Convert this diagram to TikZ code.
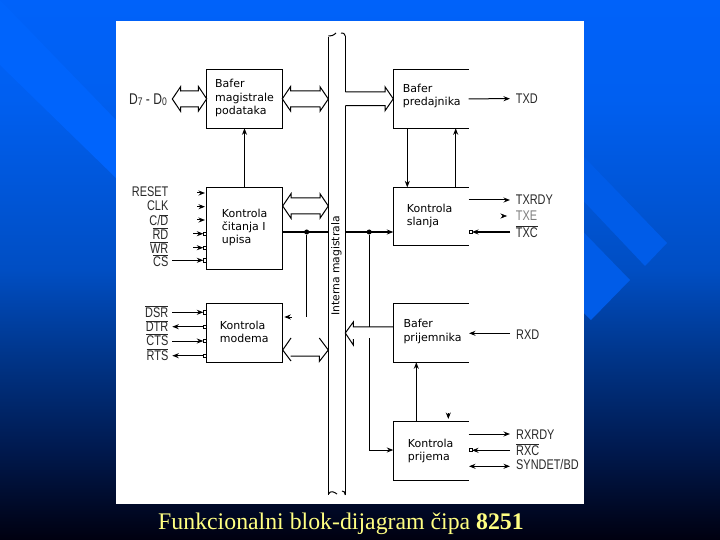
\documentclass[tikz,border=0pt]{standalone}
\usepackage{fontspec}
\usetikzlibrary{arrows.meta,calc}
\setmainfont{Liberation Serif}
\newfontfamily\boxfont{DejaVu Sans}
\newfontfamily\sigfont[FakeStretch=0.78]{Liberation Sans}
\definecolor{bgA}{RGB}{0,98,250}
\definecolor{bgB}{RGB}{0,95,240}
\definecolor{bgC}{RGB}{0,78,195}
\definecolor{bgD}{RGB}{0,52,135}
\definecolor{bgE}{RGB}{0,25,78}
\definecolor{bgF}{RGB}{0,0,16}
\definecolor{chev}{RGB}{0,92,232}
\definecolor{chevl}{RGB}{0,100,252}
\definecolor{capt}{RGB}{255,255,130}
\definecolor{sigtext}{RGB}{40,40,40}
\pgfdeclareverticalshading{slidebg}{100bp}{color(0bp)=(bgF); color(25bp)=(bgF); color(33.33bp)=(bgE); color(41.67bp)=(bgD); color(50bp)=(bgC); color(65.74bp)=(bgB); color(75bp)=(bgA); color(100bp)=(bgA)}
\newcommand{\ov}[1]{$\overline{\hbox{#1}}$}
\newcommand{\hollowboth}[2]{%
  \draw[conn,line join=miter] ($(#1)+(8.3,-12.3)$) -- (#1) -- ($(#1)+(8.3,12.3)$) -- ($(#1)+(8.3,8)$) -- ($(#2)+(-8.3,8)$) -- ($(#2)+(-8.3,12.3)$) -- (#2) -- ($(#2)+(-8.3,-12.3)$) -- ($(#2)+(-8.3,-8)$) -- ($(#1)+(8.3,-8)$) -- cycle;}
\tikzset{
  conn/.style={draw=black,line width=1pt},
  arrowed/.style={conn,-{Stealth[length=6.5pt,width=5pt]}},
  arrowedl/.style={conn,{Stealth[length=6.5pt,width=5pt]}-},
  arrowedb/.style={conn,{Stealth[length=6.5pt,width=5pt]}-{Stealth[length=6.5pt,width=5pt]}},
  fullbox/.style={draw=black,line width=1pt,fill=white,minimum width=75.6pt,minimum height=59pt,inner sep=0pt,outer sep=0pt},
  openbox/.style={minimum width=75.4pt,inner sep=0pt,outer sep=0pt},
  boxtext/.style={inner sep=0pt,anchor=west,align=left,font=\boxfont\fontsize{11}{13.4}\selectfont},
  sigr/.style={inner sep=0pt,anchor=east,text=sigtext,font=\sigfont\fontsize{14}{14}\selectfont},
  sigl/.style={inner sep=0pt,anchor=west,text=sigtext,font=\sigfont\fontsize{14}{14}\selectfont},
  bub/.style={draw=black,line width=0.7pt,fill=white,minimum size=3.4pt,inner sep=0pt,outer sep=0pt},
  junction/.style={circle,fill=black,minimum size=5pt,inner sep=0pt,outer sep=0pt}
}
\begin{document}
\begin{tikzpicture}[x=1pt,y=-1pt]
\useasboundingbox (0,0) rectangle (720,540);
\path[shading=slidebg] (0,0) rectangle (720,540);
% faint background chevrons
\fill[chevl] (0,65) -- (116,178) -- (116,120) -- (0,0) -- cycle;
\fill[chev] (560,132) -- (667,243) -- (645,266) -- (540,155) -- cycle;
\fill[chev] (560,208) -- (630,280) -- (591,320) -- (560,290) -- cycle;
% white panel
\fill[white] (116,21) rectangle (584,504);
% internal bus
\draw[conn] (328.3,37) -- (328.3,494.5);
\draw[conn] (328.3,494) .. controls (331,490) and (334,492) .. (337,494);
\draw[conn] (342,491) .. controls (344,491) and (345,492) .. (345.3,495);
\draw[conn] (328.3,36) .. controls (331,36) and (333,36) .. (336,33);
\draw[conn] (341,33) .. controls (343,33) and (345,33) .. (345.3,36);
\draw[conn] (345.3,36) -- (345.3,91.7);
\draw[conn] (345.3,105.7) -- (345.3,495);
\node[rotate=90,inner sep=0pt,font=\boxfont\fontsize{10.8}{11}\selectfont] (buslabel) at (336.4,266) {Interna magistrala};
% blocks on the left
\node[fullbox] (bm) at (244.5,98.8) {};
\node[fullbox,minimum height=82pt] (kc) at (244.5,228.3) {};
\node[fullbox] (km) at (244.5,332.8) {};
% blocks on the right, open at the right side
\node[openbox,minimum height=59pt] (bp) at (431,98.8) {};
\node[openbox,minimum height=57.7pt] (ks) at (431,216.2) {};
\node[openbox,minimum height=59pt] (bj) at (431,332.8) {};
\node[openbox,minimum height=59.3pt] (kp) at (431,450.7) {};
\foreach \b in {bp,ks,bj,kp}{
  \draw[conn] (\b.north east) -- (\b.north west) -- (\b.south west) -- (\b.south east);
}
% block texts
\node[boxtext] (tbm) at (215,98) {Bafer\\magistrale\\podataka};
\node[boxtext] (tkc) at (221.7,227.5) {Kontrola\\čitanja I\\upisa};
\node[boxtext] (tkm) at (219.7,331.7) {Kontrola\\modema};
\node[boxtext] (tbp) at (402.7,96.2) {Bafer\\predajnika};
\node[boxtext] (tks) at (406.7,215.8) {Kontrola\\slanja};
\node[boxtext] (tbj) at (403.3,331.5) {Bafer\\prijemnika};
\node[boxtext] (tkp) at (407.7,450.8) {Kontrola\\prijema};
% hollow bus arrows
\coordinate (dleft) at (172.3,99);
\coordinate (busA) at (328.3,99);
\coordinate (busB) at (328.3,206);
\coordinate (kcB) at (282.7,206);
\coordinate (kmB) at (282.7,350);
\coordinate (busC) at (328.3,350);
\coordinate (busD) at (345.3,92);
\coordinate (busE) at (345.3,105.7);
\coordinate (bjH) at (345.3,333);
\hollowboth{dleft}{bm.west}
\hollowboth{bm.east}{busA}
\hollowboth{kcB}{busB}
% modem hollow arrow: lower shaft only
\draw[conn] ($(kmB)+(8.3,-12)$) -- (kmB) -- ($(kmB)+(8.3,11)$);
\draw[conn] ($(kmB)+(8,6)$) -- ($(busC)+(-9,6)$) -- ($(busC)+(-9,11.5)$) -- (busC) -- ($(busC)+(-9,-12)$);
% bus to transmitter buffer
\draw[conn] (busD) -- ($(bp.west)+(-8.3,-6.8)$) -- ($(bp.west)+(-8.3,-12)$) -- (bp.west) -- ($(bp.west)+(-8.3,12)$) -- ($(bp.west)+(-8.3,6.9)$) -- (busE);
% receiver buffer to bus
\coordinate (bjS) at ($(bj.north west)!0.4!(bj.south west)$);
\draw[conn] (bjS) -- ($(bjS-|bjH)+(8,0)$) -- ($(bjH)+(8,-11)$) -- (bjH) -- ($(bjH)+(8,12)$) -- ($(bjH)+(8,6)$);
% control lines
\coordinate (kcE) at (282.3,232);
\coordinate (busL) at (328.3,232);
\coordinate (busR) at (345.3,232);
\coordinate (ksW) at (393.3,232);
\node[junction] (j1) at (306.7,232) {};
\node[junction] (j2) at (369.2,232) {};
\coordinate (j1end) at (306.7,316.7);
\draw[conn] (kcE) -- (busL);
\draw[arrowed] (busR) -- (ksW);
\draw[conn] (j1) -- (j1end);
\coordinate (kmtipA) at (291.5,317);
\coordinate (kmtipB) at (284.3,317);
\draw[arrowed] (kmtipA) -- (kmtipB);
\coordinate (j2gapA) at (369.2,327.3);
\coordinate (j2gapB) at (369.2,338);
\coordinate (j2low) at (369.2,450);
\coordinate (kpW) at (393.3,450);
\draw[conn] (j2) -- (j2gapA);
\draw[arrowed] (j2gapB) -- (j2low) -- (kpW);
% vertical block links
\draw[arrowed] (kc.north) -- (bm.south);
\draw[arrowed] ($(bp.south west)+(14,0)$) -- ($(ks.north west)+(14,0)$);
\draw[arrowed] ($(ks.north west)+(62.4,0)$) -- ($(bp.south west)+(62.4,0)$);
\draw[arrowed] ($(kp.north west)+(23,0)$) -- ($(bj.south west)+(23,0)$);
\coordinate (ktA) at (448.3,413);
\coordinate (ktB) at (448.3,419);
\draw[arrowed] (ktA) -- (ktB);
% left labels
\node[inner sep=0pt,anchor=east,text=sigtext,font=\sigfont\fontsize{15.5}{15.5}\selectfont] (ld) at (167,99.5) {D\raisebox{-1.5pt}{\fontsize{11}{11}\selectfont 7} - D\raisebox{-1.5pt}{\fontsize{11}{11}\selectfont 0}};
\node[sigr] (lreset) at (168.5,192) {RESET};
\node[sigr] (lclk) at (168.5,206) {CLK};
\node[sigr] (lcd) at (168.5,220) {C/\ov{D}};
\node[sigr] (lrd) at (168.5,233.5) {\ov{RD}};
\node[sigr] (lwr) at (168.5,247.5) {\ov{WR}};
\node[sigr] (lcs) at (168.5,260.5) {\ov{CS}};
\node[sigr] (ldsr) at (168.5,311.5) {\ov{DSR}};
\node[sigr] (ldtr) at (168.5,326) {\ov{DTR}};
\node[sigr] (lcts) at (168.5,340) {\ov{CTS}};
\node[sigr] (lrts) at (168.5,355) {\ov{RTS}};
% left pin arrows
\coordinate (rA) at (197,193); \coordinate (rB) at (205,193);
\coordinate (cA) at (197,206.7); \coordinate (cB) at (205,206.7);
\coordinate (dA) at (197,220); \coordinate (dB) at (205,220);
\draw[arrowed] (rA) -- (rB);
\draw[arrowed] (cA) -- (cB);
\draw[arrowed] (dA) -- (dB);
\node[bub] (brd) at (205,233.7) {};
\node[bub] (bwr) at (205,247.7) {};
\node[bub] (bcs) at (205,260.3) {};
\node[bub] (bdsr) at (205,312.3) {};
\node[bub] (bdtr) at (205,326.7) {};
\node[bub] (bcts) at (205,341) {};
\node[bub] (brts) at (205,355.7) {};
\coordinate (rdA) at (193,233.7);
\coordinate (wrA) at (193,247.7);
\draw[arrowed] (rdA) -- (brd);
\draw[arrowed] (wrA) -- (bwr);
\coordinate (csS) at (172.3,260.3);
\coordinate (dsS) at (172.3,312.3);
\coordinate (dtS) at (172.3,326.7);
\coordinate (ctS) at (172.3,341);
\coordinate (rtS) at (172.3,355.7);
\draw[arrowed] (csS) -- (bcs);
\draw[arrowed] (dsS) -- (bdsr);
\draw[arrowedl] (dtS) -- (bdtr);
\draw[arrowed] (ctS) -- (bcts);
\draw[arrowedl] (rtS) -- (brts);
% right labels
\node[sigl] (ltxd) at (515.7,98.5) {TXD};
\node[sigl] (ltxrdy) at (515.7,199.5) {TXRDY};
\node[sigl,text=sigtext!60] (ltxe) at (515.7,216) {TXE};
\node[sigl] (ltxc) at (515.7,231.5) {\ov{TXC}};
\node[sigl] (lrxd) at (516,335) {RXD};
\node[sigl] (lrxrdy) at (516,435) {RXRDY};
\node[sigl] (lrxc) at (516,449.5) {\ov{RXC}};
\node[sigl] (lsyn) at (516,464) {SYNDET/BD};
% right pin arrows
\coordinate (txdE) at (510,98.7);
\draw[arrowed] (bp.east) -- (txdE);
\coordinate (trS) at (468.7,200); \coordinate (trE) at (510,200);
\draw[arrowed] (trS) -- (trE);
\coordinate (teS) at (501.5,216); \coordinate (teE) at (507,216);
\draw[arrowed,line width=0.5pt] (teS) -- (teE);
\node[bub,minimum size=3pt] (btc) at (470.5,232) {};
\coordinate (tcS) at (510,232);
\draw[arrowed] (tcS) -- (btc);
\coordinate (rdS) at (510,333.3); \coordinate (rdE) at (469,333.3);
\draw[arrowed] (rdS) -- (rdE);
\coordinate (rrS) at (468.7,434); \coordinate (rrE) at (510,434);
\draw[arrowed] (rrS) -- (rrE);
\node[bub,minimum size=3pt] (brc) at (470.5,450.3) {};
\coordinate (rcS) at (510,450.3);
\draw[arrowed] (rcS) -- (brc);
\coordinate (syS) at (469,466.3); \coordinate (syE) at (510,466.3);
\draw[arrowedb] (syS) -- (syE);
% caption
\node[inner sep=0pt,text=capt,font=\fontsize{23.8}{24}\selectfont] (caption) at (341,524) {Funkcionalni blok-dijagram čipa \textbf{8251}};
\end{tikzpicture}
\end{document}
